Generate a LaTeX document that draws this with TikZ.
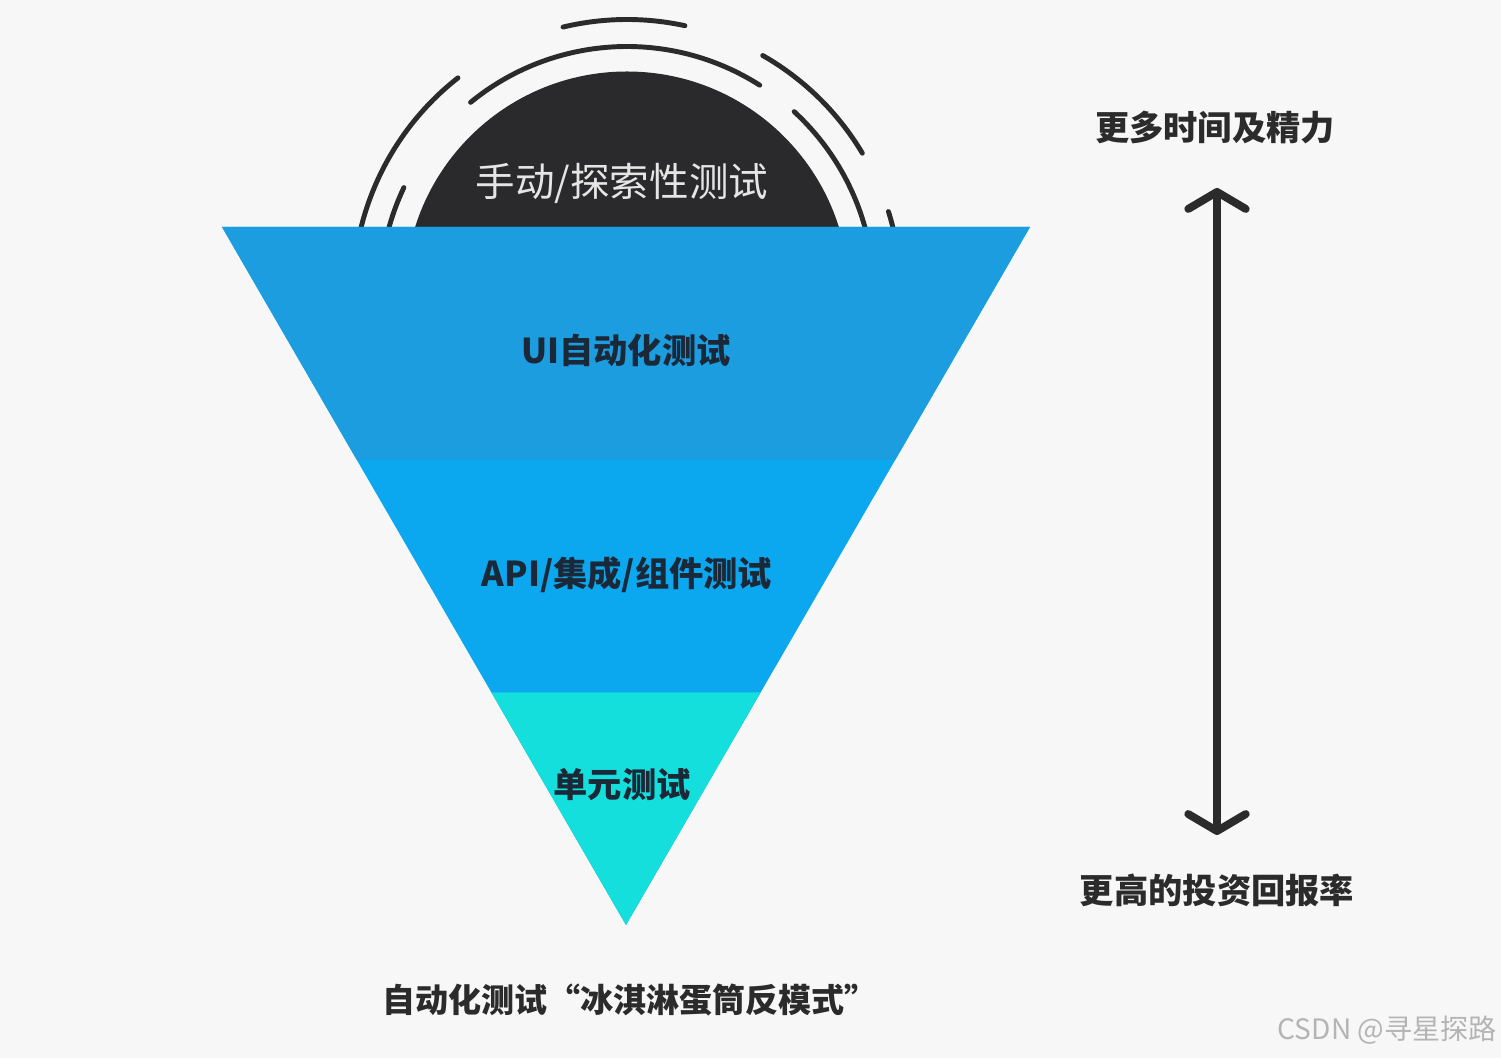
\documentclass[tikz,border=0pt]{standalone}
\usepackage{fontspec}
\newfontfamily\cjk{Noto Sans CJK SC}
\usepackage{tikz}
\usetikzlibrary{calc}
\usetikzlibrary{arrows.meta}
\usepackage{xcolor}
\definecolor{paper}{HTML}{F7F7F7}
\definecolor{cone}{HTML}{2A2A2C}
\definecolor{uiblue}{HTML}{1C9DDF}
\definecolor{apiblue}{HTML}{0BA8F0}
\definecolor{unitcyan}{HTML}{14DFDC}
\definecolor{ink}{HTML}{1A2838}
\definecolor{sideink}{HTML}{2B2B2B}
\definecolor{mark}{HTML}{B4B4B4}

\begin{document}
\begin{tikzpicture}[x=0.02cm, y=0.02cm,
		lvl/.style = {font=\cjk\bfseries\fontsize{19.5}{22}\selectfont, text=ink, inner sep=0},
		side/.style = {font=\cjk\bfseries\fontsize{19.5}{22}\selectfont, text=sideink, inner sep=0},
		ring/.style = {draw=sideink, line width=2.8pt, line cap=round},
		r/.style = {{Straight Barb[length=0.34cm, width=1.15cm, line cap=round, line join=round]}-{Straight Barb[length=0.34cm, width=1.15cm, line cap=round, line join=round]}, draw=sideink, line width=4.5pt}
		]
		
		%Frame
		\fill[paper] (0,0) rectangle (1501,1058);
		\useasboundingbox (0,0) rectangle (1501,1058);
		
		%Cone top
		\coordinate (c) at (627,764.5);
		\fill[cone] (c) circle[radius=222];
		\foreach \a/\b/\rr in {129.3/57.5/247, 47.4/10/247, 154.6/180/247,
			103.5/77.8/274, 128.1/172/274, 60.3/30.8/274, 17.4/5/274}
			\draw[ring] ($(c)+(\a:\rr)$) arc[start angle=\a, end angle=\b, radius=\rr];
		
		%Triangle
		\coordinate (tl) at (222,831);
		\coordinate (tr) at (1030,831);
		\coordinate (apex) at (626,133);
		\coordinate (l1) at ($(tl)!1/3!(apex)$);
		\coordinate (r1) at ($(tr)!1/3!(apex)$);
		\coordinate (l2) at ($(tl)!2/3!(apex)$);
		\coordinate (r2) at ($(tr)!2/3!(apex)$);
		\fill[apiblue] (tl) -- (tr) -- (apex) -- cycle;
		\fill[uiblue] (tl) -- (tr) -- (r1) -- (l1) -- cycle;
		\fill[unitcyan] (l2) -- (r2) -- (apex) -- cycle;
		
		%Nodes
		\node[font=\cjk\fontsize{22.5}{26}\selectfont, text=white!90!black, inner sep=0] (man) at (622,875) {手动/探索性测试};
		\node[lvl] (ui) at (626,708) {UI自动化测试};
		\node[lvl] (api) at (627,483) {API/集成/组件测试};
		\node[lvl] (unit) at (622,273) {单元测试};
		\node[side] (more) at (1215,930) {更多时间及精力};
		\node[side] (roi) at (1217,168) {更高的投资回报率};
		\node[side, font=\cjk\bfseries\fontsize{18.8}{22}\selectfont] (cap) at (630,58) {自动化测试“冰淇淋蛋筒反模式”};
		\node[font=\cjk\fontsize{16}{18}\selectfont, text=mark, inner sep=0, anchor=east] (wm) at (1497,28) {CSDN @寻星探路};
		
		%Lines
		\coordinate (up) at (1217,870);
		\coordinate (dn) at (1217,223);
		\draw[r] (up) -- (dn);
	\end{tikzpicture}
\end{document}
